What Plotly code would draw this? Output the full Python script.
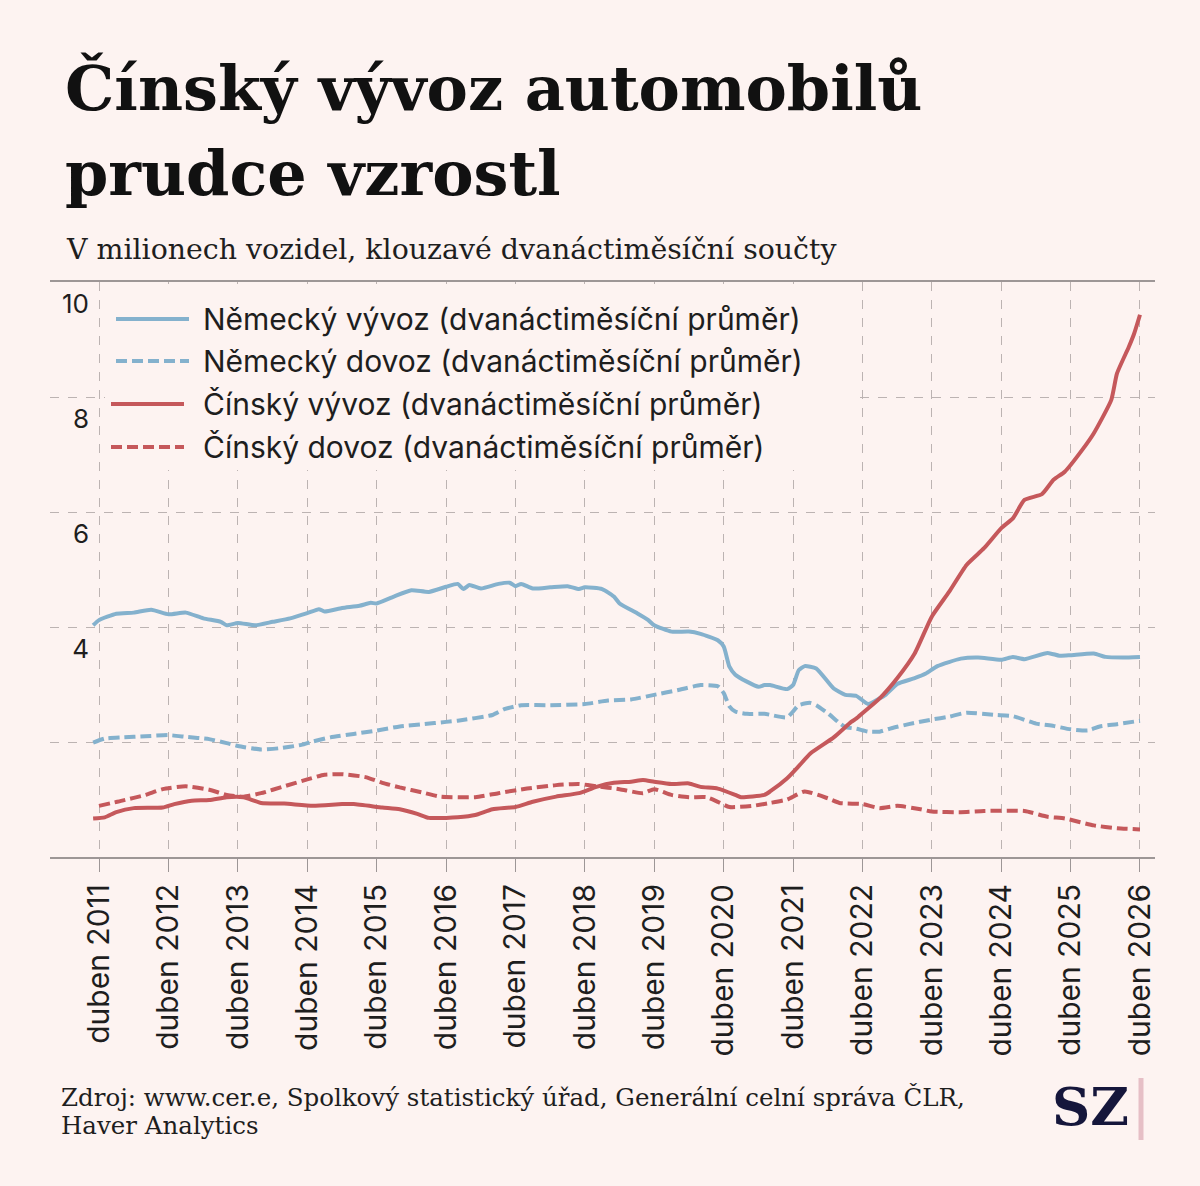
"""
Čínský vývoz automobilů prudce vzrostl – klouzavé dvanáctiměsíční součty.
"""

import plotly.graph_objects as go

W, H = 1200, 1186
PLOT_L, PLOT_R, PLOT_T, PLOT_B = 50, 1155, 282, 857

BG = "#fdf3f1"
BLUE = "#84b1cd"
RED = "#c5585b"
GRID = "#bcb3b2"
AXIS = "#9d9696"
TEXT = "#1e1e1e"
SANS = "Inter, 'Open Sans', sans-serif"
SERIF = "'DejaVu Serif', serif"

YEARS = list(range(2011, 2027))
X_TICKS = [f"{y}-04-01" for y in YEARS]
X_LABELS = [f"duben {y}" for y in YEARS]
Y_TICKS = [2, 4, 6, 8, 10]
Y_LABELS = ["", "4", "6", "8", "10"]

# Německý vývoz (dvanáctiměsíční průměr)
de_export_dates = [
    "2011-03", "2011-04", "2011-07", "2011-10", "2012-01", "2012-04", "2012-07", "2012-10",
    "2013-01", "2013-02", "2013-04", "2013-07", "2013-10", "2014-01", "2014-04", "2014-06",
    "2014-07", "2014-10", "2015-01", "2015-03", "2015-04", "2015-07", "2015-10", "2016-01",
    "2016-04", "2016-06", "2016-07", "2016-08", "2016-10", "2017-01", "2017-03", "2017-04",
    "2017-05", "2017-07", "2017-10", "2018-01", "2018-03", "2018-04", "2018-07", "2018-09",
    "2018-10", "2019-01", "2019-03", "2019-04", "2019-07", "2019-10", "2019-12", "2020-03",
    "2020-04", "2020-05", "2020-06", "2020-08", "2020-10", "2020-11", "2020-12", "2021-03",
    "2021-04", "2021-05", "2021-06", "2021-08", "2021-11", "2022-01", "2022-03", "2022-05",
    "2022-07", "2022-08", "2022-10", "2023-01", "2023-03", "2023-05", "2023-09", "2023-12",
    "2024-04", "2024-06", "2024-08", "2024-12", "2025-02", "2025-04", "2025-08", "2025-10",
    "2026-01", "2026-04",
]
de_export = [
    4.03, 4.12, 4.23, 4.25, 4.30, 4.22, 4.25, 4.15,
    4.09, 4.03, 4.07, 4.03, 4.09, 4.15, 4.24, 4.31,
    4.27, 4.33, 4.37, 4.42, 4.41, 4.53, 4.64, 4.61,
    4.70, 4.75, 4.66, 4.73, 4.67, 4.75, 4.77, 4.71,
    4.75, 4.67, 4.69, 4.71, 4.66, 4.69, 4.66, 4.53,
    4.41, 4.24, 4.12, 4.03, 3.92, 3.92, 3.88, 3.77,
    3.66, 3.31, 3.17, 3.05, 2.96, 2.99, 2.99, 2.92,
    2.99, 3.25, 3.32, 3.28, 2.93, 2.82, 2.80, 2.66,
    2.76, 2.82, 3.01, 3.11, 3.19, 3.32, 3.45, 3.47,
    3.43, 3.48, 3.44, 3.55, 3.50, 3.51, 3.54, 3.48,
    3.47, 3.48,
]

# Německý dovoz (dvanáctiměsíční průměr)
de_import_dates = [
    "2011-03", "2011-05", "2011-08", "2011-12", "2012-04", "2012-07", "2012-11", "2013-02",
    "2013-04", "2013-08", "2013-11", "2014-03", "2014-05", "2014-08", "2014-12", "2015-04",
    "2015-08", "2015-12", "2016-04", "2016-06", "2016-12", "2017-02", "2017-05", "2017-10",
    "2018-04", "2018-08", "2018-12", "2019-04", "2019-08", "2019-12", "2020-03", "2020-04",
    "2020-05", "2020-06", "2020-08", "2020-11", "2021-03", "2021-05", "2021-07", "2021-08",
    "2021-10", "2021-12", "2022-01", "2022-03", "2022-05", "2022-07", "2022-09", "2022-12",
    "2023-04", "2023-07", "2023-10", "2024-03", "2024-06", "2024-10", "2025-01", "2025-04",
    "2025-07", "2025-09", "2025-12", "2026-04",
]
de_import = [
    1.99, 2.06, 2.08, 2.10, 2.12, 2.09, 2.05, 1.98,
    1.93, 1.87, 1.89, 1.95, 2.01, 2.08, 2.14, 2.20,
    2.27, 2.31, 2.35, 2.37, 2.47, 2.57, 2.64, 2.64,
    2.66, 2.72, 2.74, 2.82, 2.90, 2.99, 2.97, 2.85,
    2.62, 2.53, 2.49, 2.49, 2.43, 2.64, 2.68, 2.64,
    2.50, 2.33, 2.26, 2.23, 2.18, 2.18, 2.24, 2.31,
    2.39, 2.44, 2.51, 2.47, 2.45, 2.32, 2.28, 2.22,
    2.20, 2.27, 2.31, 2.37,
]

# Čínský vývoz (dvanáctiměsíční průměr)
cn_export_dates = [
    "2011-03", "2011-05", "2011-07", "2011-10", "2012-03", "2012-05", "2012-08", "2012-11",
    "2013-02", "2013-05", "2013-08", "2013-12", "2014-05", "2014-10", "2014-12", "2015-05",
    "2015-08", "2015-11", "2016-01", "2016-04", "2016-06", "2016-09", "2016-12", "2017-04",
    "2017-07", "2017-11", "2018-03", "2018-06", "2018-09", "2018-12", "2019-02", "2019-04",
    "2019-07", "2019-10", "2019-12", "2020-03", "2020-06", "2020-07", "2020-11", "2020-12",
    "2021-03", "2021-05", "2021-07", "2021-11", "2022-02", "2022-03", "2022-04", "2022-07",
    "2022-10", "2023-01", "2023-04", "2023-07", "2023-10", "2024-01", "2024-04", "2024-06",
    "2024-08", "2024-11", "2025-01", "2025-03", "2025-06", "2025-08", "2025-11", "2025-12",
    "2026-02", "2026-03", "2026-04",
]
cn_export = [
    0.67, 0.69, 0.78, 0.85, 0.86, 0.92, 0.98, 0.99,
    1.04, 1.04, 0.94, 0.93, 0.89, 0.92, 0.92, 0.86,
    0.83, 0.75, 0.68, 0.68, 0.69, 0.73, 0.83, 0.87,
    0.96, 1.05, 1.11, 1.22, 1.29, 1.31, 1.34, 1.31,
    1.27, 1.28, 1.22, 1.19, 1.08, 1.04, 1.08, 1.14,
    1.37, 1.58, 1.80, 2.08, 2.35, 2.41, 2.50, 2.76,
    3.11, 3.54, 4.18, 4.61, 5.08, 5.37, 5.72, 5.89,
    6.21, 6.31, 6.56, 6.70, 7.08, 7.37, 7.95, 8.41,
    8.87, 9.10, 9.43,
]

# Čínský dovoz (dvanáctiměsíční průměr)
cn_import_dates = [
    "2011-04", "2011-08", "2011-12", "2012-03", "2012-07", "2012-11", "2013-02", "2013-05",
    "2013-08", "2013-12", "2014-04", "2014-07", "2014-10", "2015-02", "2015-05", "2015-08",
    "2015-12", "2016-03", "2016-09", "2017-01", "2017-06", "2017-11", "2018-03", "2018-06",
    "2018-10", "2019-02", "2019-04", "2019-07", "2019-10", "2020-01", "2020-03", "2020-05",
    "2020-09", "2020-12", "2021-03", "2021-06", "2021-10", "2021-12", "2022-04", "2022-07",
    "2022-10", "2023-02", "2023-04", "2023-09", "2024-01", "2024-08", "2024-12", "2025-03",
    "2025-08", "2025-12", "2026-04",
]
cn_import = [
    0.89, 0.98, 1.08, 1.18, 1.23, 1.17, 1.08, 1.05,
    1.11, 1.23, 1.35, 1.43, 1.44, 1.39, 1.29, 1.21,
    1.12, 1.05, 1.04, 1.11, 1.19, 1.25, 1.27, 1.23,
    1.18, 1.11, 1.18, 1.08, 1.04, 1.04, 0.96, 0.87,
    0.89, 0.94, 1.00, 1.14, 1.02, 0.94, 0.92, 0.85,
    0.89, 0.83, 0.79, 0.78, 0.80, 0.80, 0.70, 0.67,
    0.55, 0.50, 0.48,
]

SERIES = [
    ("Německý vývoz (dvanáctiměsíční průměr)", de_export_dates, de_export, BLUE, "solid"),
    ("Německý dovoz (dvanáctiměsíční průměr)", de_import_dates, de_import, BLUE, "11px,5px"),
    ("Čínský vývoz (dvanáctiměsíční průměr)", cn_export_dates, cn_export, RED, "solid"),
    ("Čínský dovoz (dvanáctiměsíční průměr)", cn_import_dates, cn_import, RED, "11px,5px"),
]


def px_x(px: float) -> float:
    """Pixel x -> paper x."""
    return (px - PLOT_L) / (PLOT_R - PLOT_L)


def px_y(py: float) -> float:
    """Pixel y -> paper y."""
    return (PLOT_B - py) / (PLOT_B - PLOT_T)


def note(x, y, text, size, family=SERIF, color=TEXT, xanchor="left"):
    return dict(xref="paper", yref="paper", x=px_x(x), y=px_y(y), xanchor=xanchor,
                yanchor="middle", showarrow=False, text=text,
                font={"family": family, "size": size, "color": color})


fig = go.Figure()

for name, dates, values, color, dash in SERIES:
    fig.add_trace(
        go.Scatter(
            x=dates,
            y=values,
            name=name,
            mode="lines",
            line={"color": color, "width": 4, "dash": dash, "shape": "spline", "smoothing": 0.5},
            showlegend=False,
        )
    )

# hand-made legend: box hiding the grid, long line keys and labels
shapes = [
    dict(type="rect", xref="paper", yref="paper", layer="above",
         x0=px_x(105), x1=px_x(860), y0=px_y(470), y1=px_y(284),
         fillcolor=BG, line={"width": 0}),
]
annotations = []
legend_rows = [319, 361, 404, 447]
for (name, _, _, color, dash), row_y in zip(SERIES, legend_rows):
    x0 = 116 if color == BLUE else 111
    shapes.append(
        dict(type="line", xref="paper", yref="paper", layer="above",
             x0=px_x(x0), x1=px_x(x0 + 73), y0=px_y(row_y), y1=px_y(row_y),
             line={"color": color, "width": 4, "dash": dash})
    )
    annotations.append(note(201, row_y, name, 30, family=SANS))

# title, subtitle, source, logo
annotations += [
    note(63, 88, "<b>Čínský vývoz automobilů</b>", 62, color="#111111"),
    note(63, 174, "<b>prudce vzrostl</b>", 62, color="#111111"),
    note(64, 250, "V milionech vozidel, klouzavé dvanáctiměsíční součty", 28.4),
    note(59, 1097, "Zdroj: www.cer.e, Spolkový statistický úřad, Generální celní správa ČLR,", 24.5),
    note(59, 1125, "Haver Analytics", 24.5),
    note(1131, 1106, "<b>SZ</b>", 53, color="#15163b", xanchor="right"),
]
shapes.append(
    dict(type="line", xref="paper", yref="paper",
         x0=px_x(1141), x1=px_x(1141), y0=px_y(1140), y1=px_y(1078),
         line={"color": "#e6bfc6", "width": 5})
)

fig.update_layout(
    width=W,
    height=H,
    margin={"l": PLOT_L, "r": W - PLOT_R, "t": PLOT_T, "b": H - PLOT_B},
    paper_bgcolor=BG,
    plot_bgcolor=BG,
    shapes=shapes,
    annotations=annotations,
    showlegend=False,
    xaxis={
        "type": "date",
        "range": ["2010-07-17", "2026-06-19"],
        "tickvals": X_TICKS,
        "ticktext": X_LABELS,
        "tickangle": -90,
        "tickfont": {"family": SANS, "size": 30, "color": TEXT},
        "ticks": "outside",
        "ticklen": 13,
        "tickcolor": AXIS,
        "tickwidth": 1,
        "showgrid": True,
        "gridcolor": GRID,
        "griddash": "dash",
        "gridwidth": 1,
        "showline": True,
        "linecolor": AXIS,
        "linewidth": 2,
        "mirror": True,
        "zeroline": False,
        "fixedrange": True,
    },
    yaxis={
        "range": [0, 10],
        "tickvals": Y_TICKS,
        "ticktext": Y_LABELS,
        "tickfont": {"family": SANS, "size": 26, "color": TEXT},
        "ticks": "",
        "ticklabelposition": "outside",
        "ticklabelstandoff": -40,
        "ticklabelshift": 22,
        "showgrid": True,
        "gridcolor": GRID,
        "griddash": "dash",
        "gridwidth": 1,
        "showline": False,
        "zeroline": False,
        "fixedrange": True,
    },
)

fig.write_html(
    "out.html",
    config={"displayModeBar": False},
    post_script="document.body.style.margin='0px';",
)
